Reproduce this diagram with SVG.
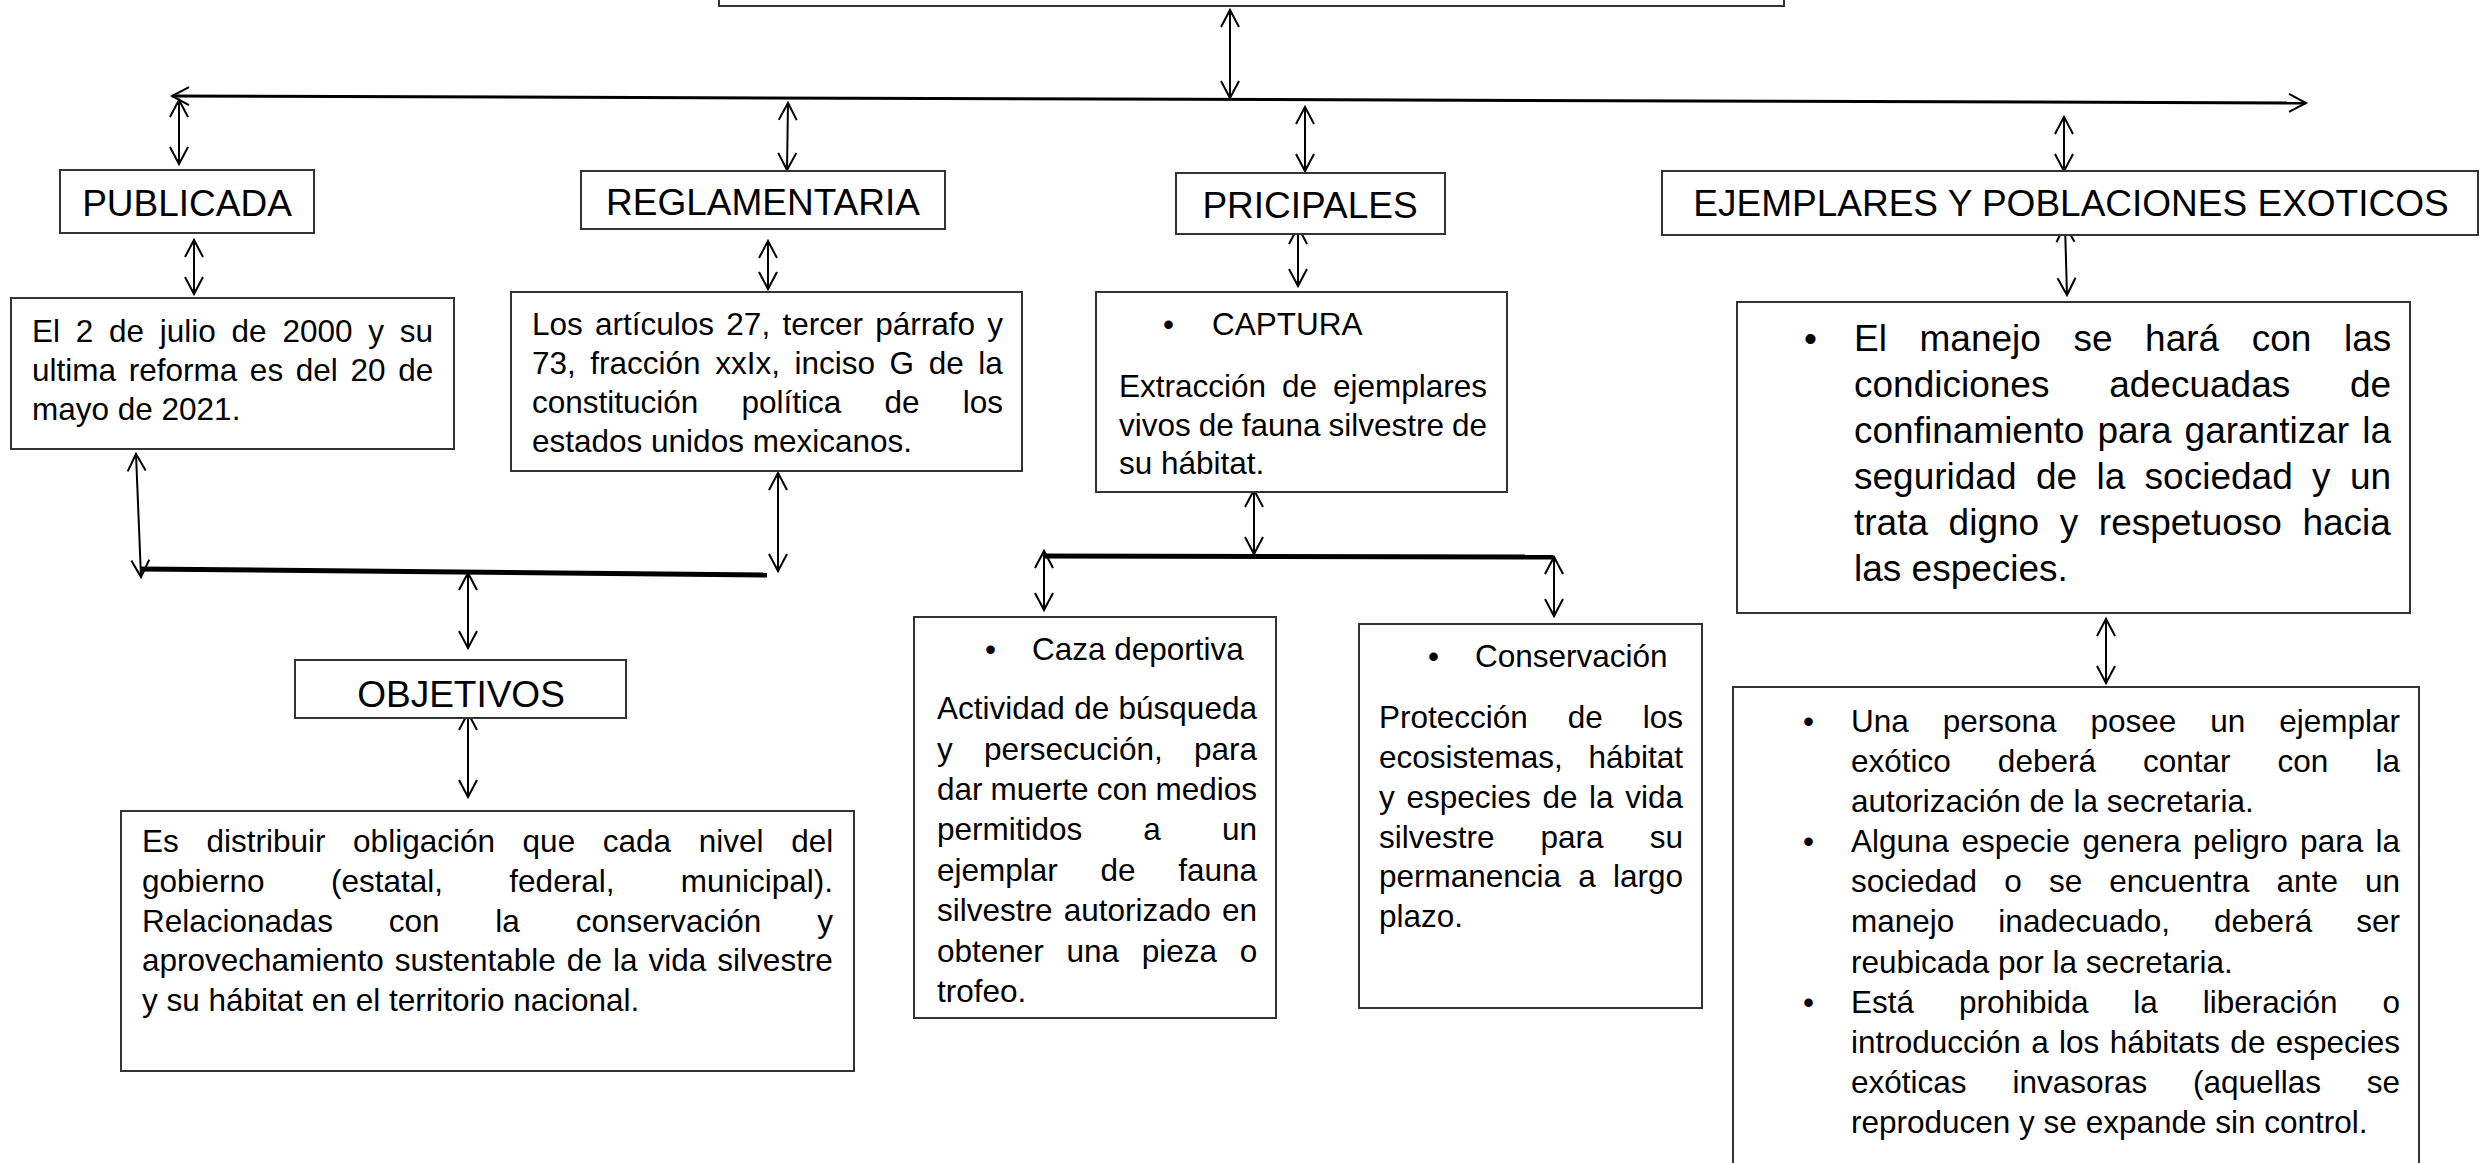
<svg xmlns="http://www.w3.org/2000/svg" width="2489" height="1163" viewBox="0 0 2489 1163">
<style>
.box{fill:#fff;stroke:#333;stroke-width:2}
.t{font-family:"Liberation Sans",Arial,sans-serif;font-size:31.5px;fill:#000}
.h{font-family:"Liberation Sans",Arial,sans-serif;font-size:37px;fill:#000}
.c{text-anchor:middle}
.ln{stroke:#000;stroke-width:2;fill:none}
.main{stroke:#000;stroke-width:3;fill:none}
.bar{stroke:#000;stroke-width:5;fill:none}
</style>
<defs>
<marker id="ah" viewBox="-20 -11 24 22" refX="0" refY="0" markerWidth="24" markerHeight="22" markerUnits="userSpaceOnUse" orient="auto-start-reverse">
<path d="M-17,-9 L0,0 L-17,9" fill="none" stroke="#000" stroke-width="2"/>
</marker>
</defs>
<rect width="2489" height="1163" fill="#fff"/>

<g id="connectors">
<line class="ln" x1="1230" y1="10" x2="1230" y2="98" marker-start="url(#ah)" marker-end="url(#ah)"/>
<line class="main" x1="172" y1="96" x2="2306" y2="103" marker-start="url(#ah)" marker-end="url(#ah)"/>
<line class="ln" x1="179" y1="100" x2="179" y2="164" marker-start="url(#ah)" marker-end="url(#ah)"/>
<line class="ln" x1="788" y1="103" x2="787" y2="170" marker-start="url(#ah)" marker-end="url(#ah)"/>
<line class="ln" x1="1305" y1="107" x2="1305" y2="171" marker-start="url(#ah)" marker-end="url(#ah)"/>
<line class="ln" x1="2064" y1="117" x2="2064" y2="171" marker-start="url(#ah)" marker-end="url(#ah)"/>
<line class="ln" x1="194" y1="240" x2="194" y2="294" marker-start="url(#ah)" marker-end="url(#ah)"/>
<line class="ln" x1="768" y1="241" x2="768" y2="289" marker-start="url(#ah)" marker-end="url(#ah)"/>
<line class="ln" x1="1298" y1="227" x2="1298" y2="286" marker-start="url(#ah)" marker-end="url(#ah)"/>
<line class="ln" x1="2065" y1="225" x2="2067" y2="295" marker-start="url(#ah)" marker-end="url(#ah)"/>
<line class="ln" x1="136" y1="454" x2="141" y2="577" marker-start="url(#ah)" marker-end="url(#ah)"/>
<line class="ln" x1="778" y1="473" x2="778" y2="571" marker-start="url(#ah)" marker-end="url(#ah)"/>
<line class="bar" x1="140" y1="569" x2="767" y2="575"/>
<line class="ln" x1="468" y1="573" x2="468" y2="648" marker-start="url(#ah)" marker-end="url(#ah)"/>
<line class="ln" x1="468" y1="713" x2="468" y2="797" marker-start="url(#ah)" marker-end="url(#ah)"/>
<line class="ln" x1="1254" y1="490" x2="1254" y2="554" marker-start="url(#ah)" marker-end="url(#ah)"/>
<line class="bar" x1="1044" y1="556" x2="1553" y2="557"/>
<line class="ln" x1="1044" y1="551" x2="1044" y2="610" marker-start="url(#ah)" marker-end="url(#ah)"/>
<line class="ln" x1="1554" y1="557" x2="1554" y2="616" marker-start="url(#ah)" marker-end="url(#ah)"/>
<line class="ln" x1="2106" y1="619" x2="2106" y2="683" marker-start="url(#ah)" marker-end="url(#ah)"/>
</g>

<g id="top">
<rect class="box" x="719" y="-30" width="1065" height="36"/>
</g>

<g id="publicada">
<rect class="box" x="60" y="170" width="254" height="63"/>
<text class="h c" x="187" y="216">PUBLICADA</text>
</g>
<g id="reglamentaria">
<rect class="box" x="581" y="171" width="364" height="58"/>
<text class="h c" x="763" y="215">REGLAMENTARIA</text>
</g>
<g id="pricipales">
<rect class="box" x="1176" y="173" width="269" height="61"/>
<text class="h c" x="1310" y="218">PRICIPALES</text>
</g>
<g id="ejemplares">
<rect class="box" x="1662" y="171" width="816" height="64"/>
<text class="h c" x="2071" y="216">EJEMPLARES Y POBLACIONES EXOTICOS</text>
</g>

<g id="publicada-detalle">
<rect class="box" x="11" y="298" width="443" height="151"/>
<text class="t" x="32" y="342" style="word-spacing:7px">El 2 de julio de 2000 y su</text>
<text class="t" x="32" y="381" style="word-spacing:3.9px">ultima reforma es del 20 de</text>
<text class="t" x="32" y="420">mayo de 2021.</text>
</g>

<g id="reglamentaria-detalle">
<rect class="box" x="511" y="292" width="511" height="179"/>
<text class="t" x="532" y="335" style="word-spacing:3.5px">Los artículos 27, tercer párrafo y</text>
<text class="t" x="532" y="374" style="word-spacing:5.8px">73, fracción xxIx, inciso G de la</text>
<text class="t" x="532" y="413" style="word-spacing:34.4px">constitución política de los</text>
<text class="t" x="532" y="452">estados unidos mexicanos.</text>
</g>

<g id="captura">
<rect class="box" x="1096" y="292" width="411" height="200"/>
<text class="t" x="1163" y="335">•</text>
<text class="t" x="1212" y="335">CAPTURA</text>
<text class="t" x="1119" y="397" style="word-spacing:7.2px">Extracción de ejemplares</text>
<text class="t" x="1119" y="436" style="word-spacing:-0.8px">vivos de fauna silvestre de</text>
<text class="t" x="1119" y="474">su hábitat.</text>
</g>

<g id="manejo">
<rect class="box" x="1737" y="302" width="673" height="311"/>
<text class="h" x="1804" y="351">•</text>
<text class="h" x="1854" y="351" style="word-spacing:22.3px">El manejo se hará con las</text>
<text class="h" x="1854" y="397" style="word-spacing:49.5px">condiciones adecuadas de</text>
<text class="h" x="1854" y="443" style="word-spacing:2.8px">confinamiento para garantizar la</text>
<text class="h" x="1854" y="489" style="word-spacing:9.1px">seguridad de la sociedad y un</text>
<text class="h" x="1854" y="535" style="word-spacing:10.3px">trata digno y respetuoso hacia</text>
<text class="h" x="1854" y="581">las especies.</text>
</g>

<g id="objetivos">
<rect class="box" x="295" y="660" width="331" height="58"/>
<text class="h c" x="461" y="707">OBJETIVOS</text>
</g>

<g id="objetivos-detalle">
<rect class="box" x="121" y="811" width="733" height="260"/>
<text class="t" x="142" y="852" style="word-spacing:18.9px">Es distribuir obligación que cada nivel del</text>
<text class="t" x="142" y="892" style="word-spacing:57.6px">gobierno (estatal, federal, municipal).</text>
<text class="t" x="142" y="932" style="word-spacing:47.1px">Relacionadas con la conservación y</text>
<text class="t" x="142" y="971" style="word-spacing:2.3px">aprovechamiento sustentable de la vida silvestre</text>
<text class="t" x="142" y="1011">y su hábitat en el territorio nacional.</text>
</g>

<g id="caza">
<rect class="box" x="914" y="617" width="362" height="401"/>
<text class="t" x="985" y="660">•</text>
<text class="t" x="1032" y="660">Caza deportiva</text>
<text class="t" x="937" y="719" style="word-spacing:0.6px">Actividad de búsqueda</text>
<text class="t" x="937" y="760" style="word-spacing:22.6px">y persecución, para</text>
<text class="t" x="937" y="800" style="word-spacing:-0.7px">dar muerte con medios</text>
<text class="t" x="937" y="840" style="word-spacing:52.3px">permitidos a un</text>
<text class="t" x="937" y="881" style="word-spacing:33.9px">ejemplar de fauna</text>
<text class="t" x="937" y="921" style="word-spacing:2.4px">silvestre autorizado en</text>
<text class="t" x="937" y="962" style="word-spacing:13.9px">obtener una pieza o</text>
<text class="t" x="937" y="1002">trofeo.</text>
</g>

<g id="conservacion">
<rect class="box" x="1359" y="624" width="343" height="384"/>
<text class="t" x="1428" y="667">•</text>
<text class="t" x="1475" y="667">Conservación</text>
<text class="t" x="1379" y="728" style="word-spacing:31.2px">Protección de los</text>
<text class="t" x="1379" y="768" style="word-spacing:16.9px">ecosistemas, hábitat</text>
<text class="t" x="1379" y="808" style="word-spacing:2.9px">y especies de la vida</text>
<text class="t" x="1379" y="848" style="word-spacing:37.3px">silvestre para su</text>
<text class="t" x="1379" y="887" style="word-spacing:8.4px">permanencia a largo</text>
<text class="t" x="1379" y="927">plazo.</text>
</g>

<g id="exoticos-detalle">
<rect class="box" x="1733" y="687" width="686" height="520"/>
<text class="t" x="1803" y="732">•</text>
<text class="t" x="1851" y="732" style="word-spacing:25.2px">Una persona posee un ejemplar</text>
<text class="t" x="1851" y="772" style="word-spacing:38.3px">exótico deberá contar con la</text>
<text class="t" x="1851" y="812">autorización de la secretaria.</text>
<text class="t" x="1803" y="852">•</text>
<text class="t" x="1851" y="852" style="word-spacing:3.7px">Alguna especie genera peligro para la</text>
<text class="t" x="1851" y="892" style="word-spacing:18.4px">sociedad o se encuentra ante un</text>
<text class="t" x="1851" y="932" style="word-spacing:35.3px">manejo inadecuado, deberá ser</text>
<text class="t" x="1851" y="973">reubicada por la secretaria.</text>
<text class="t" x="1803" y="1013">•</text>
<text class="t" x="1851" y="1013" style="word-spacing:36.1px">Está prohibida la liberación o</text>
<text class="t" x="1851" y="1053" style="word-spacing:1.6px">introducción a los hábitats de especies</text>
<text class="t" x="1851" y="1093" style="word-spacing:37.1px">exóticas invasoras (aquellas se</text>
<text class="t" x="1851" y="1133">reproducen y se expande sin control.</text>
</g>
</svg>
